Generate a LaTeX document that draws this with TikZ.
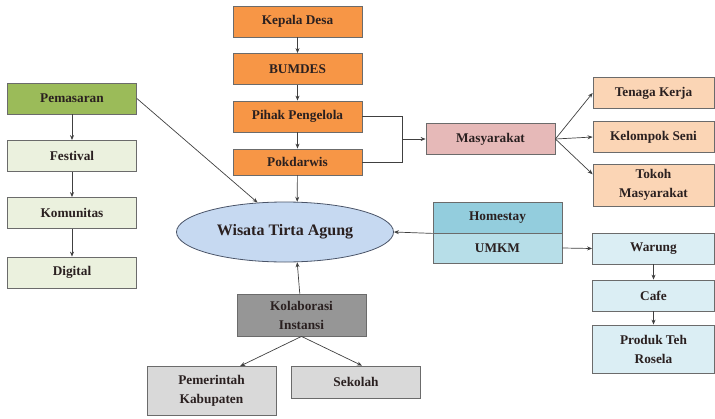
\documentclass[tikz,border=0pt]{standalone}
\usepackage{fontspec}
\setmainfont{Liberation Serif}
\usetikzlibrary{shapes.geometric,arrows.meta}

\definecolor{boxline}{HTML}{6B6B6B}
\definecolor{txt}{HTML}{2A2020}
\definecolor{orangebox}{HTML}{F79646}
\definecolor{peachbox}{HTML}{FBD5B5}
\definecolor{pinkbox}{HTML}{E6B9B8}
\definecolor{greenbox}{HTML}{9BBB59}
\definecolor{palegreen}{HTML}{EBF1DE}
\definecolor{ellipsefill}{HTML}{C6D9F1}
\definecolor{ellipseline}{HTML}{4A5468}
\definecolor{tealbox}{HTML}{93CDDD}
\definecolor{aquabox}{HTML}{B7DEE8}
\definecolor{paleblue}{HTML}{DBEEF4}
\definecolor{darkgray}{HTML}{969696}
\definecolor{lightgray}{HTML}{D9D9D9}

\begin{document}
\begin{tikzpicture}[x=1pt,y=-1pt,>={Stealth[length=5pt,width=4pt]}]
      \useasboundingbox (0,0) rectangle (715,418);

      \begin{scope}[every node/.style={rectangle,draw=boxline,line width=0.8pt,inner sep=0pt,
          minimum width=129pt,minimum height=31pt,align=center,text=txt,
          font=\fontsize{13.3}{19}\selectfont\bfseries}]
        % kolom tengah
        \node[fill=orangebox] (kades)     at (297.5,21.5)  {Kepala Desa};
        \node[fill=orangebox] (bumdes)    at (297.5,69)    {BUMDES};
        \node[fill=orangebox] (pihak)     at (297.5,116.5) {Pihak Pengelola};
        \node[fill=orangebox,minimum height=26pt] (pokdarwis) at (297.5,162) {Pokdarwis};
        % masyarakat
        \node[fill=pinkbox]   (masyarakat) at (490.5,139) {Masyarakat};
        \node[fill=peachbox,minimum width=121pt] (tenaga)   at (653.5,93)  {Tenaga Kerja};
        \node[fill=peachbox,minimum width=121pt] (kelompok) at (653.5,137) {Kelompok Seni};
        \node[fill=peachbox,minimum width=121pt,minimum height=42pt] (tokoh) at (653.5,185) {Tokoh\\Masyarakat};
        % pemasaran
        \node[fill=greenbox]  (pemasaran) at (72,98.5)  {Pemasaran};
        \node[fill=palegreen] (festival)  at (72,156)   {Festival};
        \node[fill=palegreen] (komunitas) at (72,213)   {Komunitas};
        \node[fill=palegreen] (digital)   at (72,272.5) {Digital};
        % homestay dan umkm
        \node[fill=tealbox]   (homestay) at (497.5,217.5) {Homestay};
        \node[fill=aquabox,minimum height=30pt] (umkm) at (497.5,248) {UMKM};
        \node[fill=paleblue,minimum width=122pt] (warung) at (653.5,248.5) {Warung};
        \node[fill=paleblue,minimum width=122pt] (cafe)   at (653.5,295.5) {Cafe};
        \node[fill=paleblue,minimum width=122pt,minimum height=48pt] (produk) at (653.5,349) {Produk Teh\\Rosela};
        % kolaborasi
        \node[fill=darkgray,minimum height=42pt] (kolab) at (301.5,315) {Kolaborasi\\Instansi};
        \node[fill=lightgray,minimum height=49pt] (pemkab)  at (211.5,391) {Pemerintah\\Kabupaten};
        \node[fill=lightgray,minimum height=32pt] (sekolah) at (356,382)   {Sekolah};
      \end{scope}

      \node[ellipse,draw=ellipseline,line width=0.8pt,fill=ellipsefill,inner sep=0pt,
        minimum width=217pt,minimum height=60pt,text=txt,
        font=\fontsize{16}{19}\selectfont\bfseries] (wisata) at (285,232) {Wisata Tirta Agung};

      \coordinate (junc) at (402,139);

      \begin{scope}[line width=0.7pt,draw=black!75]
        \draw (pihak.east) -| (junc);
        \draw (pokdarwis.east) -| (junc);

        \begin{scope}[every edge/.style={draw,->}]
          \path (kades)     edge (bumdes);
          \path (bumdes)    edge (pihak);
          \path (pihak)     edge (pokdarwis);
          \path (pokdarwis) edge (wisata.68);
          \path (junc)      edge (masyarakat.west);
          \path (masyarakat.east) edge (tenaga.west);
          \path (masyarakat.east) edge (kelompok.west);
          \path (masyarakat.east) edge (tokoh.170);
          \path (pemasaran) edge (festival);
          \path (festival)  edge (komunitas);
          \path (komunitas) edge (digital);
          \path (pemasaran.east) edge (wisata.133);
          \path (homestay.south west) edge (wisata.east);
          \path (umkm.east) edge (warung.west);
          \path (warung)    edge (cafe);
          \path (cafe)      edge (produk);
          \path (kolab)     edge (wisata.-68);
          \path (kolab.south) edge (pemkab.41);
          \path (kolab.south) edge (sekolah.70);
        \end{scope}
      \end{scope}

    \end{tikzpicture}
\end{document}
